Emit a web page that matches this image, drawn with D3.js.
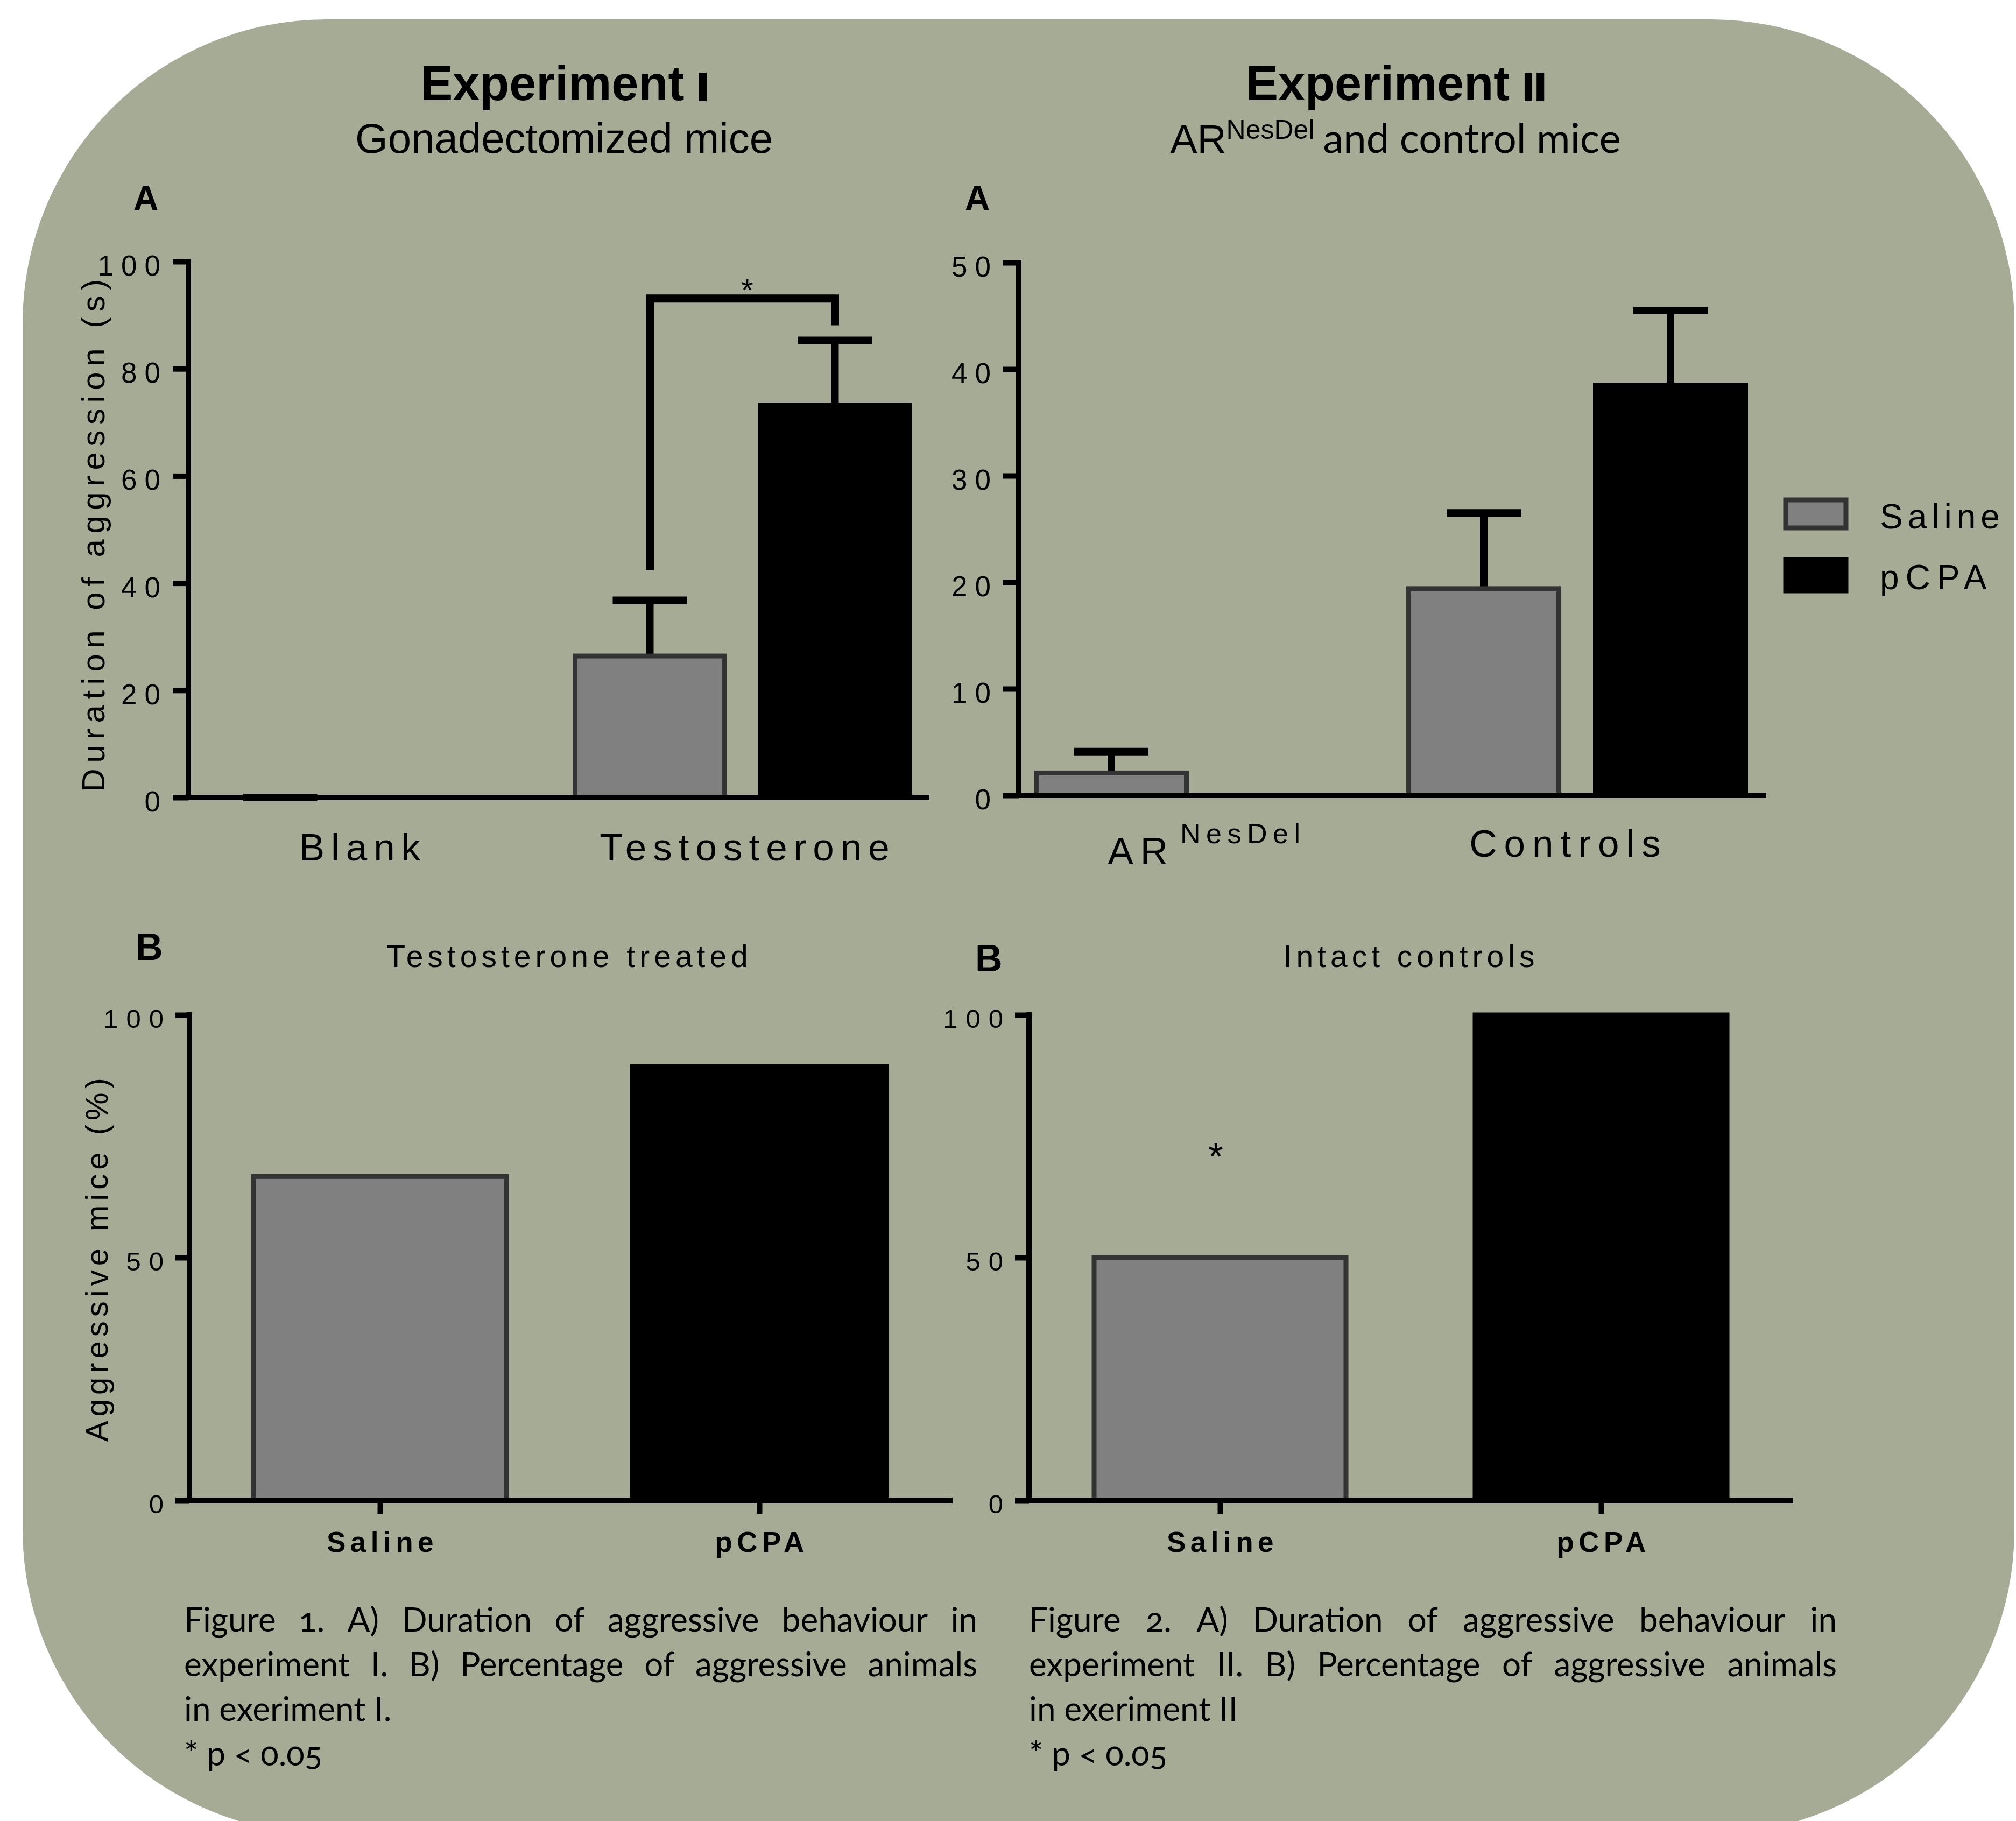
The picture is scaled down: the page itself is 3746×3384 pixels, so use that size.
<!DOCTYPE html>
<html>
<head>
<meta charset="utf-8">
<script src="https://cdn.jsdelivr.net/npm/d3@7"></script>
<style>
  body { margin: 0; background: #fff; }
  svg { display: block; }
  text { font-family: "Liberation Sans", Arial, sans-serif; fill: #000; }
  .cap { font-family: Lato, "Open Sans", sans-serif; font-variant-numeric: oldstyle-nums; }
</style>
</head>
<body>
<svg id="fig" width="3746" height="3384"></svg>
<script>
// ---- data ----
const series = ["Saline", "pCPA"];

// Experiment I, panel A: duration of aggression (s), mean and SEM
const exp1Groups = ["Blank", "Testosterone"];
const exp1SalineMean = [0, 26.4];
const exp1SalineSem = [0, 10.4];
const exp1PcpaMean = [0, 73.2];
const exp1PcpaSem = [null, 12.1];
const exp1Ticks = [0, 20, 40, 60, 80, 100];
const exp1Bracket = [42.4, 93.1, 88.1]; // saline end, top, pCPA end

// Experiment II, panel A
const exp2Groups = ["ARNesDel", "Controls"];
const exp2SalineMean = [2.1, 19.4];
const exp2SalineSem = [2.0, 7.1];
const exp2PcpaMean = [0, 38.5];
const exp2PcpaSem = [null, 7.0];
const exp2Ticks = [0, 10, 20, 30, 40, 50];

// Panels B: aggressive mice (%)
const pctCats = ["Saline", "pCPA"];
const pctExp1 = [66.7, 89.3];
const pctExp2 = [50, 100];
const pctTicks = [0, 50, 100];
const exp2StarAt = 72.5; // asterisk over saline in Experiment II B

const caption1 = ["Figure 1. A) Duration of aggressive behaviour in",
                  "experiment I. B) Percentage of aggressive animals",
                  "in exeriment I.",
                  "* p < 0.05"];
const caption2 = ["Figure 2. A) Duration of aggressive behaviour in",
                  "experiment II. B) Percentage of aggressive animals",
                  "in exeriment II",
                  "* p < 0.05"];

const grayFill = "#808080", grayStroke = "#333333";
const svg = d3.select("#fig");

// rounded background
svg.append("rect")
  .attr("x", 42).attr("y", 36).attr("width", 3701).attr("height", 3372)
  .attr("rx", 565).attr("fill", "#a6ab95");

// ---- helpers ----
function drawYAxis(g, y, ticks, o) {
  const ax = g.append("g")
    .attr("transform", `translate(${o.x},0)`)
    .call(d3.axisLeft(y).tickValues(ticks).tickSize(o.tick).tickSizeOuter(0).tickPadding(o.pad));
  ax.attr("font-family", null).attr("font-size", null);
  ax.select(".domain").remove();
  ax.selectAll(".tick line").attr("stroke", "#000").attr("stroke-width", 10);
  ax.selectAll(".tick text")
    .attr("fill", "#000")
    .attr("font-size", o.fs)
    .attr("dy", "0.48em")
    .style("letter-spacing", o.ls + "px");
  // vertical axis line
  g.append("line")
    .attr("x1", o.x).attr("x2", o.x)
    .attr("y1", y(ticks[ticks.length - 1]) - 5).attr("y2", y(0) + 5)
    .attr("stroke", "#000").attr("stroke-width", 10);
  // horizontal baseline
  g.append("line")
    .attr("x1", o.x - o.tick).attr("x2", o.xEnd)
    .attr("y1", y(0)).attr("y2", y(0))
    .attr("stroke", "#000").attr("stroke-width", 10);
}

function barStyle(sel, s) {
  sel.attr("fill", s === "Saline" ? grayFill : "#000")
     .attr("stroke", s === "Saline" ? grayStroke : "#000")
     .attr("stroke-width", 9);
}

function durationPanel(o) {
  const g = svg.append("g");
  const y = d3.scaleLinear().domain([0, o.ticks[o.ticks.length - 1]]).range([o.y0, o.yTop]);
  const gx = d3.scalePoint().domain(o.groups).range(o.groupRange);
  const sx = d3.scalePoint().domain(series).range([-o.offset, o.offset]);
  const rows = o.groups.flatMap((grp, i) => [
    { group: grp, s: "Saline", mean: o.salineMean[i], sem: o.salineSem[i] },
    { group: grp, s: "pCPA", mean: o.pcpaMean[i], sem: o.pcpaSem[i] }
  ]);
  const cx = d => gx(d.group) + sx(d.s);

  const err = rows.filter(d => d.sem !== null);
  g.selectAll(".stem").data(err.filter(d => d.sem > 0)).join("line")
    .attr("x1", cx).attr("x2", cx)
    .attr("y1", d => y(d.mean)).attr("y2", d => y(d.mean + d.sem))
    .attr("stroke", "#000").attr("stroke-width", 14);
  g.selectAll(".capbar").data(err).join("line")
    .attr("x1", d => cx(d) - 69).attr("x2", d => cx(d) + 69)
    .attr("y1", d => y(d.mean + d.sem)).attr("y2", d => y(d.mean + d.sem))
    .attr("stroke", "#000").attr("stroke-width", 14);

  g.selectAll(".bar").data(rows.filter(d => d.mean > 0)).join("rect")
    .attr("x", d => cx(d) - (o.barW - 9) / 2)
    .attr("width", o.barW - 9)
    .attr("y", d => y(d.mean))
    .attr("height", d => y(0) - y(d.mean))
    .each(function (d) { barStyle(d3.select(this), d.s); });

  drawYAxis(g, y, o.ticks, { x: o.x, xEnd: o.xEnd, tick: 29, pad: 9, fs: 53, ls: 14 });
  return { g, y, gx, sx };
}

function pctPanel(o) {
  const g = svg.append("g");
  const y = d3.scaleLinear().domain([0, 100]).range([o.y0, o.yTop]);
  const x = d3.scalePoint().domain(pctCats).range(o.range);
  g.selectAll(".bar").data(o.values).join("rect")
    .attr("x", (d, i) => x(pctCats[i]) - (o.barW - 9) / 2)
    .attr("width", o.barW - 9)
    .attr("y", d => y(d))
    .attr("height", d => y(0) - y(d))
    .each(function (d, i) { barStyle(d3.select(this), pctCats[i]); });

  drawYAxis(g, y, pctTicks, { x: o.x, xEnd: o.xEnd, tick: 26, pad: 7, fs: 49, ls: 15 });

  const xa = g.append("g")
    .attr("transform", `translate(0,${y(0)})`)
    .call(d3.axisBottom(x).tickSize(25).tickPadding(33));
  xa.attr("font-family", null).attr("font-size", null);
  xa.select(".domain").remove();
  xa.selectAll(".tick line").attr("stroke", "#000").attr("stroke-width", 10);
  xa.selectAll(".tick text")
    .attr("fill", "#000").attr("font-size", 53).attr("font-weight", "bold")
    .attr("dx", 4).style("letter-spacing", "8.5px");

  g.append("text")
    .attr("x", o.titleX).attr("y", 1797)
    .attr("text-anchor", "middle").attr("font-size", 57)
    .style("letter-spacing", "8px").text(o.title);
  return { g, y, x };
}

// ---- headers ----
const hdr = svg.append("g");
function roman(t, s) {
  t.append("tspan").attr("font-size", 70).attr("stroke", "#000").attr("stroke-width", 4)
    .style("letter-spacing", "3px").text(s);
}
const t1 = hdr.append("text").attr("x", 1050).attr("y", 186).attr("text-anchor", "middle")
  .attr("font-size", 90).attr("font-weight", "bold");
t1.append("tspan").text("Experiment ");
roman(t1, "I");
hdr.append("text").attr("x", 1048).attr("y", 284).attr("text-anchor", "middle")
  .attr("font-size", 78).text("Gonadectomized mice");

const t2 = hdr.append("text").attr("x", 2595).attr("y", 186).attr("text-anchor", "middle")
  .attr("font-size", 90).attr("font-weight", "bold");
t2.append("tspan").text("Experiment ");
roman(t2, "II");
const s2 = hdr.append("text").attr("x", 2593).attr("y", 284).attr("text-anchor", "middle")
  .attr("font-size", 75);
s2.append("tspan").text("AR");
s2.append("tspan").attr("font-size", 50).attr("dy", -26).text("NesDel");
s2.append("tspan").attr("class", "cap").attr("font-size", 76).attr("dy", 26).attr("dx", 16).text("and control mice");

// panel letters
[["A", 248, 390], ["A", 1793, 390], ["B", 252, 1784], ["B", 1812, 1805]].forEach(([l, x, y]) => {
  hdr.append("text").attr("x", x).attr("y", y).attr("font-size", l === "A" ? 64 : 70)
    .attr("font-weight", "bold").text(l);
});

// ---- Experiment I, A ----
const p1 = durationPanel({
  groups: exp1Groups, salineMean: exp1SalineMean, salineSem: exp1SalineSem,
  pcpaMean: exp1PcpaMean, pcpaSem: exp1PcpaSem, ticks: exp1Ticks,
  x: 350, xEnd: 1727, y0: 1482, yTop: 486, groupRange: [692.5, 1379.5], offset: 172, barW: 287
});
const exp1LabelShift = [-18, 10];
p1.g.selectAll(".glabel").data(exp1Groups).join("text")
  .attr("x", (d, i) => p1.gx(d) + exp1LabelShift[i]).attr("y", 1482 + 117)
  .attr("text-anchor", "middle").attr("font-size", 71)
  .style("letter-spacing", "12px").text(d => d);
// significance bracket
{
  const xs = p1.gx("Testosterone") + p1.sx("Saline");
  const xp = p1.gx("Testosterone") + p1.sx("pCPA");
  const line = d3.line();
  p1.g.append("path")
    .attr("d", line([[xs, p1.y(exp1Bracket[0])], [xs, p1.y(exp1Bracket[1])],
                     [xp, p1.y(exp1Bracket[1])], [xp, p1.y(exp1Bracket[2])]]))
    .attr("fill", "none").attr("stroke", "#000").attr("stroke-width", 15);
  p1.g.append("text")
    .attr("x", (xs + xp) / 2 + 9).attr("y", p1.y(exp1Bracket[1]) + 4)
    .attr("text-anchor", "middle").attr("font-size", 58).text("*");
}
p1.g.append("text")
  .attr("transform", `translate(194,${(p1.y(0) + p1.y(100)) / 2 + 6}) rotate(-90)`)
  .attr("text-anchor", "middle").attr("font-size", 60)
  .style("letter-spacing", "10.5px").text("Duration of aggression (s)");

// ---- Experiment II, A ----
const p2 = durationPanel({
  groups: exp2Groups, salineMean: exp2SalineMean, salineSem: exp2SalineSem,
  pcpaMean: exp2PcpaMean, pcpaSem: exp2PcpaSem, ticks: exp2Ticks,
  x: 1893, xEnd: 3282, y0: 1478, yTop: 488, groupRange: [2238.5, 2930.5], offset: 173.5, barW: 288
});
{
  const lab = p2.g.append("text").attr("x", p2.gx("ARNesDel") + 4).attr("y", 1478 + 128)
    .attr("text-anchor", "middle").attr("font-size", 71).style("letter-spacing", "13px");
  lab.append("tspan").text("AR");
  lab.append("tspan").attr("font-size", 52).attr("dy", -39).attr("dx", 10)
    .style("letter-spacing", "10.5px").text("NesDel");
  p2.g.append("text").attr("x", p2.gx("Controls") - 16).attr("y", 1478 + 114)
    .attr("text-anchor", "middle").attr("font-size", 71)
    .style("letter-spacing", "13px").text("Controls");
}
// legend
{
  const lg = svg.append("g");
  series.forEach((s, i) => {
    const yy = i === 0 ? 929 : 1040;
    lg.append("rect").attr("x", 3318).attr("y", yy).attr("width", 112).attr("height", i === 0 ? 52 : 58)
      .call(barStyle, s);
    lg.append("text").attr("x", 3493).attr("y", i === 0 ? 982 : 1095)
      .attr("font-size", 64).style("letter-spacing", i === 0 ? "9px" : "12px").text(s);
  });
}

// ---- Experiment I, B ----
const p3 = pctPanel({
  values: pctExp1, x: 352, xEnd: 1770, y0: 2788, yTop: 1886, range: [706, 1411], barW: 480,
  title: "Testosterone treated", titleX: 1058
});
p3.g.append("text")
  .attr("transform", `translate(200,${p3.y(50)}) rotate(-90)`)
  .attr("text-anchor", "middle").attr("font-size", 58)
  .style("letter-spacing", "8px").text("Aggressive mice (%)");

// ---- Experiment II, B ----
const p4 = pctPanel({
  values: pctExp2, x: 1912, xEnd: 3332, y0: 2788, yTop: 1886, range: [2267, 2975], barW: 477,
  title: "Intact controls", titleX: 2622
});
p4.g.append("text")
  .attr("x", p4.x("Saline") - 8).attr("y", p4.y(exp2StarAt) + 40)
  .attr("text-anchor", "middle").attr("font-size", 72).text("*");

// ---- captions ----
function caption(lines, x0, x1, y0, lh) {
  const g = svg.append("g").attr("class", "cap").attr("font-size", 62);
  lines.forEach((ln, k) => {
    const t = g.append("text").attr("class", "cap").attr("y", y0 + k * lh);
    if (k < 2) {
      const words = ln.split(" ");
      const spans = words.map(w => t.append("tspan").text(w));
      const widths = spans.map(s => s.node().getComputedTextLength());
      const gap = (x1 - x0 - d3.sum(widths)) / (words.length - 1);
      let x = x0;
      spans.forEach((s, i) => { s.attr("x", x); x += widths[i] + gap; });
    } else {
      t.attr("x", x0).text(ln);
    }
  });
}
caption(caption1, 342, 1816, 3032, 83);
caption(caption2, 1912, 3413, 3032, 83);
</script>
</body>
</html>
